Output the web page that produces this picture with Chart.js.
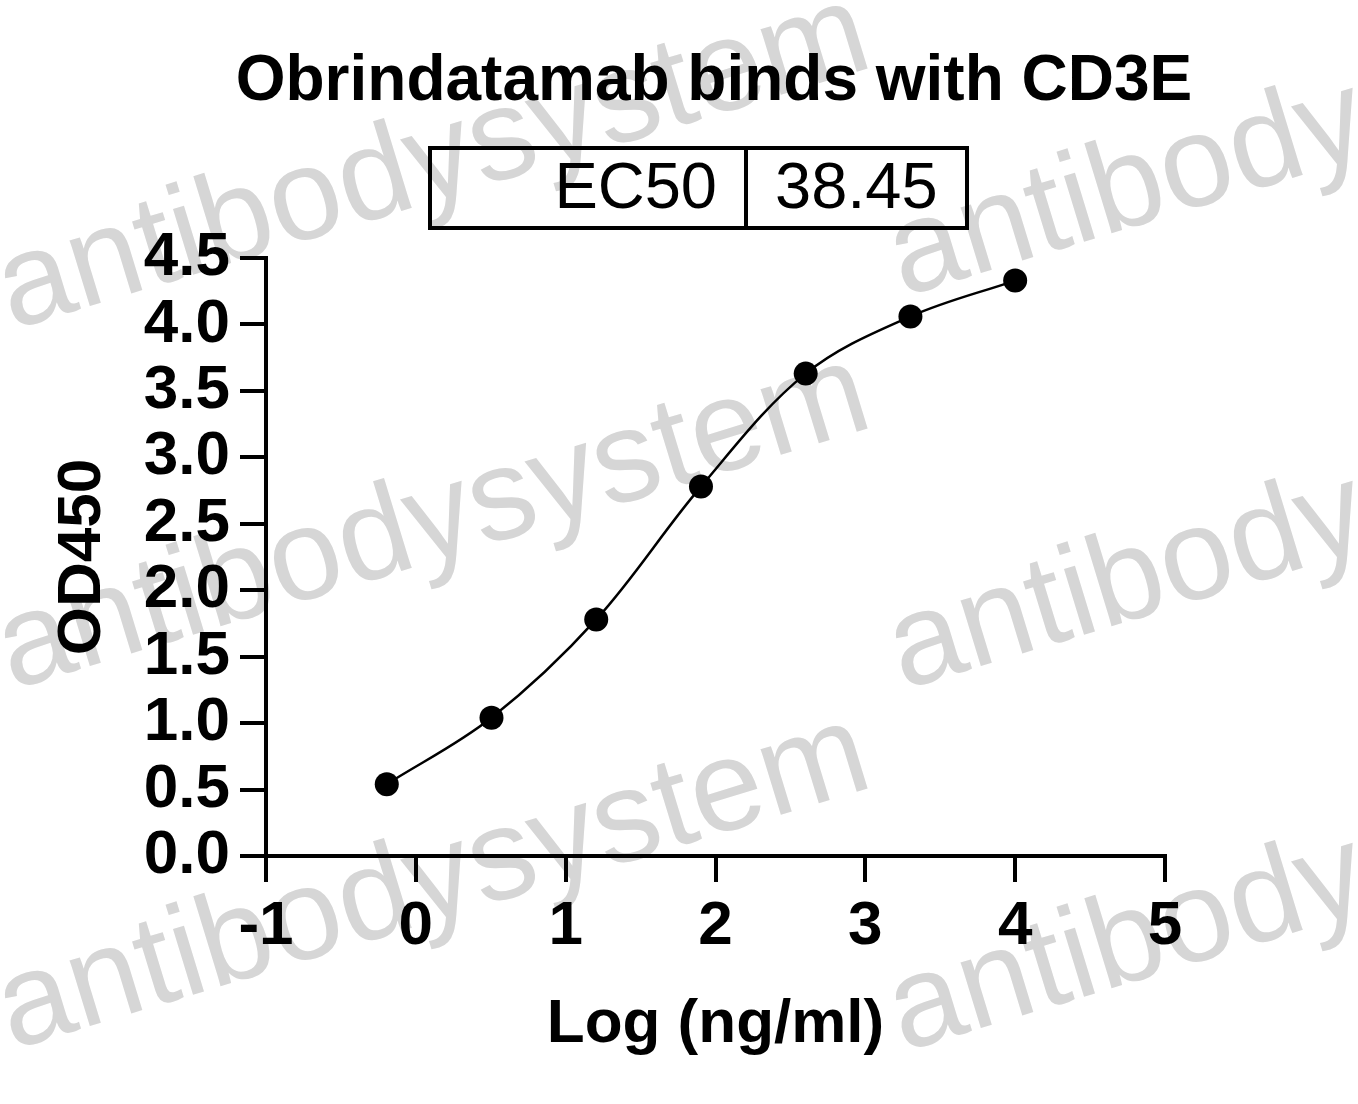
<!DOCTYPE html>
<html>
<head>
<meta charset="utf-8">
<title>Obrindatamab binds with CD3E</title>
<script src="https://cdn.jsdelivr.net/npm/chart.js@4/dist/chart.umd.min.js"></script>
<style>
  body { margin: 0; background: #fff; }
  canvas { display: block; }
</style>
</head>
<body>
<canvas id="chart" width="1358" height="1104"></canvas>
<script>
// log10 of concentration (ng/ml), 5-fold dilutions from 10000
const logConc = [-0.194, 0.505, 1.204, 1.903, 2.602, 3.301, 4.0];
const od450 = [0.54, 1.04, 1.78, 2.78, 3.63, 4.06, 4.33];

const chartTitle = 'Obrindatamab binds with CD3E';
const tableLabels = ['EC50'];
const tableValues = ['38.45'];

const watermarkText = ['antibodysystem', 'antibody'];

const FONT = "'Liberation Sans', Arial, Helvetica, sans-serif";

const points = logConc.map((x, i) => ({ x: x, y: od450[i] }));

// light grey diagonal watermark behind everything
const watermark = {
  id: 'watermark',
  beforeDraw(chart) {
    const ctx = chart.ctx;
    ctx.save();
    ctx.fillStyle = '#fff';
    ctx.fillRect(0, 0, chart.width, chart.height);
    ctx.fillStyle = '#d6d6d6';
    ctx.font = '130px ' + FONT;
    ctx.textBaseline = 'alphabetic';
    const rows = [330, 690, 1050];
    const rightRows = [297, 690, 1052];
    rows.forEach(y => {
      ctx.save();
      ctx.translate(12, y);
      ctx.rotate(-17 * Math.PI / 180);
      ctx.fillText(watermarkText[0], 0, 0);
      ctx.restore();
    });
    rightRows.forEach(y => {
      ctx.save();
      ctx.translate(903, y);
      ctx.rotate(-17 * Math.PI / 180);
      ctx.fillText(watermarkText[1], 0, 0);
      ctx.restore();
    });
    ctx.restore();
  }
};

// title and EC50 result box above the plot
const header = {
  id: 'header',
  afterDraw(chart) {
    const ctx = chart.ctx;
    ctx.save();
    ctx.fillStyle = '#000';
    ctx.textBaseline = 'middle';
    ctx.textAlign = 'center';
    ctx.font = 'bold 64px ' + FONT;
    ctx.fillText(chartTitle, 714, 82);

    ctx.strokeStyle = '#000';
    ctx.lineWidth = 4;
    ctx.strokeRect(430, 148, 537, 80);
    ctx.beginPath();
    ctx.moveTo(746, 148);
    ctx.lineTo(746, 228);
    ctx.stroke();
    ctx.font = '65px ' + FONT;
    ctx.textAlign = 'right';
    ctx.fillText(tableLabels[0], 717, 190);
    ctx.textAlign = 'left';
    ctx.fillText(tableValues[0], 775, 190);
    ctx.restore();
  }
};

const ctx = document.getElementById('chart').getContext('2d');
new Chart(ctx, {
  type: 'scatter',
  data: {
    datasets: [{
      label: 'OD450',
      data: points,
      showLine: true,
      tension: 0.35,
      borderColor: '#000',
      borderWidth: 2.5,
      backgroundColor: '#000',
      pointRadius: 12,
      pointBorderWidth: 0,
      pointBackgroundColor: '#000'
    }]
  },
  options: {
    responsive: false,
    devicePixelRatio: 1,
    animation: false,
    layout: { padding: { left: 0, right: 193, top: 258, bottom: 0 } },
    plugins: {
      legend: { display: false },
      tooltip: { enabled: false },
      title: { display: false }
    },
    scales: {
      x: {
        type: 'linear',
        min: -1,
        max: 5,
        afterFit(scale) { scale.height = 248; },
        ticks: {
          stepSize: 1,
          autoSkip: false,
          maxRotation: 0,
          color: '#000',
          padding: 8,
          font: { family: FONT, size: 62, weight: 'bold' }
        },
        grid: { drawOnChartArea: false, drawTicks: true, tickLength: 26, lineWidth: 4, color: '#000' },
        border: { display: true, width: 4, color: '#000' },
        title: {
          display: true,
          text: 'Log (ng/ml)',
          color: '#000',
          font: { family: FONT, size: 62, weight: 'bold' },
          padding: { top: 0, bottom: 42 }
        }
      },
      y: {
        type: 'linear',
        min: 0,
        max: 4.5,
        afterFit(scale) { scale.width = 266; },
        ticks: {
          stepSize: 0.5,
          autoSkip: false,
          color: '#000',
          padding: 10,
          font: { family: FONT, size: 62, weight: 'bold', lineHeight: 1 },
          callback: v => v.toFixed(1)
        },
        grid: { drawOnChartArea: false, drawTicks: true, tickLength: 26, lineWidth: 4, color: '#000' },
        border: { display: true, width: 4, color: '#000' },
        title: {
          display: true,
          text: 'OD450',
          color: '#000',
          font: { family: FONT, size: 62, weight: 'bold' },
          padding: { top: 46, bottom: 0 }
        }
      }
    }
  },
  plugins: [watermark, header]
});
</script>
</body>
</html>
